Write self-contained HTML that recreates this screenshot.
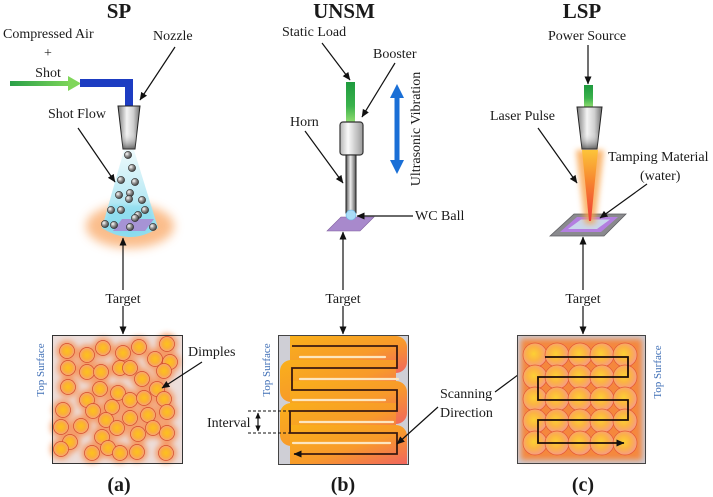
<!DOCTYPE html>
<html><head><meta charset="utf-8"><style>
html,body{margin:0;padding:0;background:#fff;}
svg{display:block;}
text{font-family:"Liberation Serif","Times New Roman",serif;fill:#1a1a1a;}
.lbl{font-size:14px;}
.ttl{font-size:21px;font-weight:bold;}
.cap{font-size:20px;font-weight:bold;}
.ts{font-size:11px;fill:#3d6db5;}
.ar{stroke:#111;stroke-width:1.2;fill:none;}
</style></head><body>
<svg width="713" height="497" viewBox="0 0 713 497" xmlns="http://www.w3.org/2000/svg">
<defs>
<marker id="ah" markerWidth="8" markerHeight="8" refX="7.5" refY="4" orient="auto-start-reverse" markerUnits="userSpaceOnUse"><path d="M0,0.5 L8,4 L0,7.5 Z" fill="#111"/></marker>
<marker id="ahs" markerWidth="6" markerHeight="6" refX="5.5" refY="3" orient="auto-start-reverse" markerUnits="userSpaceOnUse"><path d="M0,0.3 L6,3 L0,5.7 Z" fill="#111"/></marker>
<filter id="b3" x="-50%" y="-50%" width="200%" height="200%"><feGaussianBlur stdDeviation="3"/></filter>
<filter id="b5" x="-50%" y="-50%" width="200%" height="200%"><feGaussianBlur stdDeviation="5"/></filter>
<filter id="b2" x="-50%" y="-50%" width="200%" height="200%"><feGaussianBlur stdDeviation="1.5"/></filter>
<linearGradient id="noz" x1="0" y1="0" x2="1" y2="0"><stop offset="0" stop-color="#7a7a7a"/><stop offset="0.4" stop-color="#f4f4f4"/><stop offset="0.7" stop-color="#cfcfcf"/><stop offset="1" stop-color="#6f6f6f"/></linearGradient>
<linearGradient id="nozv" x1="0" y1="0" x2="0" y2="1"><stop offset="0" stop-color="#fff" stop-opacity="0"/><stop offset="0.6" stop-color="#fff" stop-opacity="0"/><stop offset="1" stop-color="#333" stop-opacity="0.7"/></linearGradient>
<linearGradient id="grn" x1="0" y1="0" x2="1" y2="0"><stop offset="0" stop-color="#2aa048"/><stop offset="1" stop-color="#7fd65a"/></linearGradient>
<linearGradient id="grnv" x1="0" y1="0" x2="0" y2="1"><stop offset="0" stop-color="#1e9a3e"/><stop offset="0.6" stop-color="#3bb24c"/><stop offset="1" stop-color="#8fdc70"/></linearGradient>
<linearGradient id="cone" x1="0" y1="0" x2="0" y2="1"><stop offset="0" stop-color="#eefafc"/><stop offset="1" stop-color="#8fdcee"/></linearGradient>
<radialGradient id="ball" cx="0.35" cy="0.35" r="0.7"><stop offset="0" stop-color="#ffffff"/><stop offset="0.45" stop-color="#9a9a9a"/><stop offset="1" stop-color="#3a3a3a"/></radialGradient>
<linearGradient id="box" x1="0" y1="0" x2="1" y2="0"><stop offset="0" stop-color="#b5b5b5"/><stop offset="0.35" stop-color="#fafafa"/><stop offset="1" stop-color="#9a9a9a"/></linearGradient>
<linearGradient id="shaft" x1="0" y1="0" x2="1" y2="0"><stop offset="0" stop-color="#555"/><stop offset="0.45" stop-color="#efefef"/><stop offset="1" stop-color="#555"/></linearGradient>
<linearGradient id="beam" x1="0" y1="0" x2="0" y2="1"><stop offset="0" stop-color="#fcc43a"/><stop offset="0.45" stop-color="#f7852f"/><stop offset="1" stop-color="#ef3b38"/></linearGradient>
<radialGradient id="dimple" cx="0.5" cy="0.5" r="0.5"><stop offset="0" stop-color="#fcc21c"/><stop offset="0.55" stop-color="#fbb135"/><stop offset="1" stop-color="#f7a27a"/></radialGradient>
<radialGradient id="dimple2" cx="0.45" cy="0.45" r="0.55"><stop offset="0" stop-color="#fdd033"/><stop offset="0.5" stop-color="#fbb443"/><stop offset="1" stop-color="#f79c82"/></radialGradient>
<linearGradient id="band" x1="0" y1="0" x2="1" y2="1"><stop offset="0" stop-color="#f9b01a"/><stop offset="0.55" stop-color="#f89a2a"/><stop offset="1" stop-color="#f1665e"/></linearGradient>
<g id="adots">
<circle cx="67" cy="351" r="7.5"/><circle cx="87" cy="355" r="7.5"/><circle cx="103" cy="348" r="7.5"/><circle cx="123" cy="353" r="7.5"/><circle cx="139" cy="347" r="7.5"/><circle cx="167" cy="344" r="7.5"/>
<circle cx="68" cy="368" r="7.5"/><circle cx="87" cy="372" r="7.5"/><circle cx="101" cy="372" r="7.5"/><circle cx="120" cy="368" r="7.5"/><circle cx="130" cy="368" r="7.5"/><circle cx="155" cy="359" r="7.5"/><circle cx="170" cy="362" r="7.5"/><circle cx="164" cy="371" r="7.5"/><circle cx="142" cy="379" r="7.5"/>
<circle cx="68" cy="387" r="7.5"/><circle cx="100" cy="389" r="7.5"/><circle cx="118" cy="393" r="7.5"/><circle cx="130" cy="400" r="7.5"/><circle cx="144" cy="398" r="7.5"/><circle cx="157" cy="389" r="7.5"/><circle cx="164" cy="399" r="7.5"/><circle cx="87" cy="400" r="7.5"/>
<circle cx="63" cy="410" r="7.5"/><circle cx="93" cy="411" r="7.5"/><circle cx="112" cy="407" r="7.5"/><circle cx="106" cy="420" r="7.5"/><circle cx="130" cy="418" r="7.5"/><circle cx="148" cy="415" r="7.5"/><circle cx="167" cy="412" r="7.5"/>
<circle cx="61" cy="427" r="7.5"/><circle cx="81" cy="426" r="7.5"/><circle cx="102" cy="437" r="7.5"/><circle cx="117" cy="428" r="7.5"/><circle cx="138" cy="434" r="7.5"/><circle cx="153" cy="428" r="7.5"/><circle cx="167" cy="433" r="7.5"/>
<circle cx="70" cy="442" r="7.5"/><circle cx="61" cy="449" r="7.5"/><circle cx="92" cy="453" r="7.5"/><circle cx="108" cy="448" r="7.5"/><circle cx="120" cy="453" r="7.5"/><circle cx="137" cy="452" r="7.5"/><circle cx="166" cy="453" r="7.5"/>
</g>
<g id="cdots">
<circle cx="535" cy="355" r="12"/><circle cx="557" cy="355" r="12"/><circle cx="580" cy="355" r="12"/><circle cx="602" cy="355" r="12"/><circle cx="625" cy="355" r="12"/>
<circle cx="535" cy="377" r="12"/><circle cx="557" cy="377" r="12"/><circle cx="580" cy="377" r="12"/><circle cx="602" cy="377" r="12"/><circle cx="625" cy="377" r="12"/>
<circle cx="535" cy="399" r="12"/><circle cx="557" cy="399" r="12"/><circle cx="580" cy="399" r="12"/><circle cx="602" cy="399" r="12"/><circle cx="625" cy="399" r="12"/>
<circle cx="535" cy="421" r="12"/><circle cx="557" cy="421" r="12"/><circle cx="580" cy="421" r="12"/><circle cx="602" cy="421" r="12"/><circle cx="625" cy="421" r="12"/>
<circle cx="535" cy="443" r="12"/><circle cx="557" cy="443" r="12"/><circle cx="580" cy="443" r="12"/><circle cx="602" cy="443" r="12"/><circle cx="625" cy="443" r="12"/>
</g>
</defs>

<!-- Titles -->
<text class="ttl" x="119" y="18" text-anchor="middle">SP</text>
<text class="ttl" x="344" y="18" text-anchor="middle">UNSM</text>
<text class="ttl" x="582" y="18" text-anchor="middle">LSP</text>

<!-- ===== SP ===== -->
<text class="lbl" x="3" y="38">Compressed Air</text>
<text class="lbl" x="48" y="57" text-anchor="middle">+</text>
<text class="lbl" x="48" y="77" text-anchor="middle">Shot</text>
<text class="lbl" x="153" y="40">Nozzle</text>
<text class="lbl" x="48" y="118">Shot Flow</text>
<rect x="10" y="81" width="62" height="5" fill="url(#grn)"/>
<polygon points="68,76 81,83.5 68,91" fill="#7fd65a"/>
<polyline points="80,83 129,83 129,107" fill="none" stroke="#1d3cc2" stroke-width="8"/>
<ellipse cx="130" cy="226" rx="44" ry="22" fill="#f9a765" opacity="0.75" filter="url(#b5)"/>
<path d="M124,150 L134,150 L158,228 Q130,246 102,228 Z" fill="url(#cone)"/>
<path d="M110,205 L150,205 L156,228 Q130,242 104,228 Z" fill="#7fd9ee" opacity="0.55" filter="url(#b2)"/>
<polygon points="113,231 122,219 154,219 145,231" fill="#a98bd2" opacity="0.9"/>
<polygon points="118,106 140,106 135,149 123,149" fill="url(#noz)" stroke="#222" stroke-width="1"/>
<polygon points="118,106 140,106 135,149 123,149" fill="url(#nozv)"/>
<g fill="url(#ball)" stroke="#2a2a2a" stroke-width="0.6">
<circle cx="128" cy="155" r="3.6"/><circle cx="132" cy="168" r="3.6"/><circle cx="121" cy="180" r="3.6"/><circle cx="135" cy="182" r="3.6"/>
<circle cx="119" cy="195" r="3.6"/><circle cx="130" cy="193" r="3.6"/><circle cx="129" cy="199" r="3.6"/><circle cx="142" cy="200" r="3.6"/>
<circle cx="111" cy="210" r="3.6"/><circle cx="121" cy="210" r="3.6"/><circle cx="145" cy="210" r="3.6"/><circle cx="138" cy="215" r="3.6"/>
<circle cx="135" cy="218" r="3.6"/><circle cx="105" cy="224" r="3.6"/><circle cx="114" cy="225" r="3.6"/><circle cx="130" cy="227" r="3.6"/><circle cx="153" cy="227" r="3.6"/>
</g>
<line class="ar" x1="175" y1="47" x2="140" y2="100" marker-end="url(#ah)"/>
<line class="ar" x1="78" y1="128" x2="115" y2="182" marker-end="url(#ah)"/>
<line class="ar" x1="123" y1="290" x2="123" y2="238" marker-end="url(#ah)"/>
<text class="lbl" x="123" y="303" text-anchor="middle">Target</text>
<line class="ar" x1="123" y1="306" x2="123" y2="334" marker-end="url(#ah)"/>
<rect x="52.5" y="335.5" width="130" height="128" fill="#ecdedb" stroke="#333" stroke-width="1"/>
<use href="#adots" fill="#f7843f" stroke="#f7843f" stroke-width="6" opacity="0.75" filter="url(#b3)"/>
<rect x="52.5" y="335.5" width="130" height="128" fill="none" stroke="#333" stroke-width="1"/>
<use href="#adots" fill="url(#dimple)" stroke="#d24b2a" stroke-width="0.7"/>
<text class="ts" transform="translate(44,370) rotate(-90)" text-anchor="middle">Top Surface</text>
<text class="lbl" x="188" y="356">Dimples</text>
<line class="ar" x1="202" y1="362" x2="162" y2="388" marker-end="url(#ah)"/>
<text class="cap" x="119" y="491" text-anchor="middle">(a)</text>

<!-- ===== UNSM ===== -->
<text class="lbl" x="282" y="36">Static Load</text>
<text class="lbl" x="373" y="58">Booster</text>
<text class="lbl" x="290" y="126">Horn</text>
<text class="lbl" x="415" y="220">WC Ball</text>
<rect x="346" y="82" width="9" height="40" fill="url(#grnv)"/>
<rect x="340" y="122" width="23" height="33" rx="3" fill="url(#box)" stroke="#333" stroke-width="1.2"/>
<polygon points="327,231 341,217 374,217 360,231" fill="#a889cc" stroke="#80609f" stroke-width="0.6"/>
<rect x="346" y="155" width="10" height="58" fill="url(#shaft)" stroke="#222" stroke-width="1"/>
<circle cx="351" cy="215" r="5" fill="#a9dcf7" stroke="#6cb8e6" stroke-width="0.6"/>
<line x1="397" y1="94" x2="397" y2="164" stroke="#1a6fd6" stroke-width="5"/>
<polygon points="397,84 390,98 404,98" fill="#1a6fd6"/>
<polygon points="397,174 390,160 404,160" fill="#1a6fd6"/>
<text class="lbl" transform="translate(420,129) rotate(-90)" text-anchor="middle">Ultrasonic Vibration</text>
<line class="ar" x1="322" y1="43" x2="350" y2="80" marker-end="url(#ah)"/>
<line class="ar" x1="395" y1="63" x2="362" y2="117" marker-end="url(#ah)"/>
<line class="ar" x1="305" y1="131" x2="343" y2="183" marker-end="url(#ah)"/>
<line class="ar" x1="413" y1="216" x2="357" y2="216" marker-end="url(#ah)"/>
<line class="ar" x1="343" y1="290" x2="343" y2="232" marker-end="url(#ah)"/>
<text class="lbl" x="343" y="303" text-anchor="middle">Target</text>
<line class="ar" x1="343" y1="306" x2="343" y2="334" marker-end="url(#ah)"/>
<rect x="278.5" y="335.5" width="130" height="129" fill="#cfcfd6" stroke="#444" stroke-width="1"/>
<g fill="url(#band)">
<path d="M290,336 H396 A11,11 0 0 1 407,347 V362 A11,11 0 0 1 396,373 H290 Z"/>
<path d="M396,360 H291 A11,11 0 0 0 280,371 V391 A11,11 0 0 0 291,402 H396 Z"/>
<path d="M290,381 H396 A11,11 0 0 1 407,392 V413 A11,11 0 0 1 396,424 H290 Z"/>
<path d="M396,403 H291 A11,11 0 0 0 280,414 V435 A11,11 0 0 0 291,446 H396 Z"/>
<path d="M290,425 H396 A11,11 0 0 1 407,436 V464 H290 Z"/>
</g>
<g stroke="#fde6bf" stroke-width="2.2" stroke-linecap="round">
<line x1="300" y1="357" x2="385" y2="357"/>
<line x1="300" y1="379" x2="398" y2="379"/>
<line x1="293" y1="400" x2="385" y2="400"/>
<line x1="300" y1="422" x2="393" y2="422"/>
<line x1="293" y1="443" x2="390" y2="443"/>
</g>
<rect x="278.5" y="335.5" width="130" height="129" fill="none" stroke="#444" stroke-width="1"/>
<polyline points="292,346 397,346 397,368 292,368 292,390 397,390 397,411 290,411 290,433 397,433 397,454 294,454" fill="none" stroke="#3a1a10" stroke-width="1.8" marker-end="url(#ah)"/>
<text class="ts" transform="translate(270,370) rotate(-90)" text-anchor="middle">Top Surface</text>
<text class="lbl" x="207" y="427">Interval</text>
<g stroke="#111" stroke-width="0.9" stroke-dasharray="3,2">
<line x1="248" y1="411" x2="290" y2="411"/>
<line x1="248" y1="433" x2="290" y2="433"/>
</g>
<line class="ar" x1="258" y1="413" x2="258" y2="431" marker-start="url(#ahs)" marker-end="url(#ahs)"/>
<text class="cap" x="343" y="491" text-anchor="middle">(b)</text>
<text class="lbl" x="440" y="398">Scanning</text>
<text class="lbl" x="440" y="417">Direction</text>
<line class="ar" x1="438" y1="407" x2="397" y2="444" marker-end="url(#ah)"/>
<line class="ar" x1="495" y1="392" x2="542" y2="357" marker-end="url(#ah)"/>

<!-- ===== LSP ===== -->
<text class="lbl" x="548" y="40">Power Source</text>
<text class="lbl" x="490" y="120">Laser Pulse</text>
<text class="lbl" x="608" y="161">Tamping Material</text>
<text class="lbl" x="640" y="180">(water)</text>
<line class="ar" x1="588" y1="45" x2="588" y2="84" marker-end="url(#ah)"/>
<rect x="584" y="85" width="9" height="22" fill="url(#grnv)"/>
<polygon points="550,236 574,214 626,214 604,236" fill="#8a8a8e" stroke="#5e5e62" stroke-width="0.8"/>
<polygon points="560,232 577,217 618,217 601,232" fill="#b37fe0"/>
<polygon points="568,229 581,219.5 610,219.5 597,229" fill="#c9d7ec"/>
<polygon points="576,150 604,150 595,224 585,224" fill="#f9a34a" opacity="0.8" filter="url(#b3)"/>
<polygon points="582,150 598,150 591,221 589,221" fill="url(#beam)"/>
<polygon points="577,107 602,107 597,149 582,149" fill="url(#noz)" stroke="#222" stroke-width="1"/>
<polygon points="577,107 602,107 597,149 582,149" fill="url(#nozv)"/>
<line class="ar" x1="538" y1="128" x2="577" y2="183" marker-end="url(#ah)"/>
<line class="ar" x1="647" y1="184" x2="600" y2="218" marker-end="url(#ah)"/>
<line class="ar" x1="583" y1="290" x2="583" y2="237" marker-end="url(#ah)"/>
<text class="lbl" x="583" y="303" text-anchor="middle">Target</text>
<line class="ar" x1="583" y1="306" x2="583" y2="334" marker-end="url(#ah)"/>
<rect x="517.5" y="335.5" width="128" height="128" fill="#cbcad2" stroke="#444" stroke-width="1"/>
<rect x="521" y="339" width="121" height="121" fill="#f5873c" filter="url(#b3)"/>
<use href="#cdots" fill="url(#dimple2)" stroke="#e25a35" stroke-width="0.7"/>
<rect x="517.5" y="335.5" width="128" height="128" fill="none" stroke="#444" stroke-width="1"/>
<polyline points="545,357 628,357 628,377 538,377 538,400 628,400 628,420 538,420 538,443 624,443" fill="none" stroke="#1e0d06" stroke-width="1.8" marker-end="url(#ah)"/>
<text class="ts" transform="translate(661,372) rotate(-90)" text-anchor="middle">Top Surface</text>
<text class="cap" x="583" y="491" text-anchor="middle">(c)</text>
</svg>
</body></html>
